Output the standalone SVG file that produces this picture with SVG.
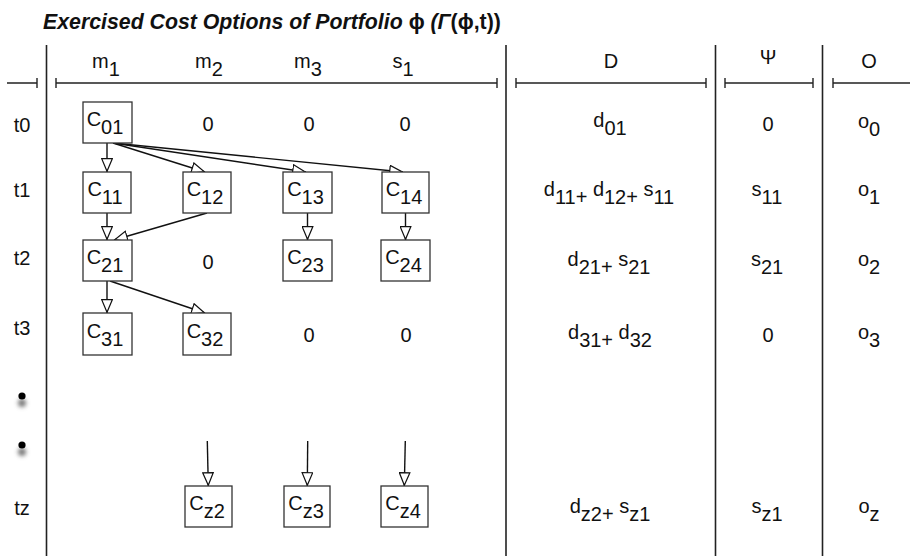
<svg xmlns="http://www.w3.org/2000/svg" width="910" height="556" viewBox="0 0 910 556">
  <style>
    text { font-family: "Liberation Sans", Arial, sans-serif; font-size: 20px; fill: #111; }
    .title { font-size: 21.3px; font-weight: bold; font-style: italic; }
    .mid { text-anchor: middle; }
    .rule { stroke: #222; stroke-width: 1.6; fill: none; }
    .bar { stroke: #222; stroke-width: 1.4; fill: none; }
    .box rect { fill: #fff; stroke: #333; stroke-width: 1.3; }
    .link { stroke: #111; stroke-width: 1.4; fill: none; marker-end: url(#head); }
  </style>
  <defs>
    <marker id="head" viewBox="0 0 14 12" refX="14" refY="6" markerWidth="14" markerHeight="12" markerUnits="userSpaceOnUse" orient="auto">
      <path d="M0.7,0.7 L13.3,6 L0.7,11.3 Z" fill="#fff" stroke="#111" stroke-width="1.2"/>
    </marker>
    <filter id="soft" x="-2" y="-2" width="5" height="5">
      <feGaussianBlur stdDeviation="2"/>
    </filter>
  </defs>

  <rect width="910" height="556" fill="#fff"/>

  <!-- title -->
  <text class="title" x="43" y="29">Exercised Cost Options of Portfolio <tspan font-style="normal">ϕ</tspan> (Γ<tspan font-style="normal">(ϕ,t))</tspan></text>

  <!-- column dividers -->
  <g id="grid">
    <line class="rule" x1="46.5" y1="45" x2="46.5" y2="556"/>
    <line class="rule" x1="506" y1="45" x2="506" y2="556"/>
    <line class="rule" x1="715.5" y1="45" x2="715.5" y2="556"/>
    <line class="rule" x1="822.5" y1="45" x2="822.5" y2="556"/>
    <!-- span bars under the headers -->
    <path class="bar" d="M7,83 H37 M37,78 V88"/>
    <path class="bar" d="M56,83 H497 M56,78 V88 M497,78 V88"/>
    <path class="bar" d="M516,83 H706 M516,78 V88 M706,78 V88"/>
    <path class="bar" d="M725,83 H813 M725,78 V88 M813,78 V88"/>
    <path class="bar" d="M833,83 H910 M833,78 V88"/>
  </g>

  <!-- column headers -->
  <g id="headers">
    <text class="mid" x="106" y="68">m<tspan dy="7.5">1</tspan></text>
    <text class="mid" x="209" y="68">m<tspan dy="7.5">2</tspan></text>
    <text class="mid" x="308" y="68">m<tspan dy="7.5">3</tspan></text>
    <text class="mid" x="403" y="68">s<tspan dy="7.5">1</tspan></text>
    <text class="mid" x="611" y="68">D</text>
    <text class="mid" x="768" y="64" font-size="14">Ψ</text>
    <text class="mid" x="869" y="68">O</text>
  </g>

  <!-- row labels -->
  <g id="rows">
    <text class="mid" x="22" y="132">t0</text>
    <text class="mid" x="22" y="197">t1</text>
    <text class="mid" x="22" y="265">t2</text>
    <text class="mid" x="22" y="335">t3</text>
    <text class="mid" x="22" y="515">tz</text>
    <circle cx="22" cy="403" r="4" fill="#777" filter="url(#soft)"/>
    <circle cx="22" cy="396" r="3.6" fill="#000"/>
    <circle cx="22" cy="452" r="4" fill="#777" filter="url(#soft)"/>
    <circle cx="22" cy="445" r="3.6" fill="#000"/>
  </g>

  <!-- connectors -->
  <g id="connectors">
    <line class="link" x1="107" y1="143" x2="107" y2="172"/>
    <line class="link" x1="113" y1="143" x2="205" y2="172"/>
    <line class="link" x1="113" y1="143" x2="306" y2="172"/>
    <line class="link" x1="113" y1="143" x2="403" y2="172"/>
    <line class="link" x1="107" y1="213" x2="107" y2="240"/>
    <line class="link" x1="207" y1="213" x2="114" y2="240"/>
    <line class="link" x1="307.5" y1="213" x2="307.5" y2="240"/>
    <line class="link" x1="405.5" y1="213" x2="405.5" y2="240"/>
    <line class="link" x1="107" y1="281" x2="107" y2="313"/>
    <line class="link" x1="110" y1="281" x2="205" y2="313"/>
    <line class="link" x1="207.3" y1="441" x2="208.3" y2="486"/>
    <line class="link" x1="307.7" y1="441" x2="307.3" y2="486"/>
    <line class="link" x1="405.3" y1="441" x2="404.3" y2="486"/>
  </g>

  <!-- cost option nodes -->
  <g id="c01" class="box"><rect x="83" y="102" width="49" height="41"/><text class="mid" x="105" y="126">C<tspan dy="7.5">01</tspan></text></g>
  <g id="c11" class="box"><rect x="83" y="172" width="48" height="41"/><text class="mid" x="105" y="196">C<tspan dy="7.5">11</tspan></text></g>
  <g id="c12" class="box"><rect x="183" y="172" width="48" height="41"/><text class="mid" x="205" y="196">C<tspan dy="7.5">12</tspan></text></g>
  <g id="c13" class="box"><rect x="283" y="172" width="49" height="41"/><text class="mid" x="305.5" y="196">C<tspan dy="7.5">13</tspan></text></g>
  <g id="c14" class="box"><rect x="382" y="172" width="47" height="41"/><text class="mid" x="404" y="196">C<tspan dy="7.5">14</tspan></text></g>
  <g id="c21" class="box"><rect x="83" y="240" width="49" height="41"/><text class="mid" x="105" y="264">C<tspan dy="7.5">21</tspan></text></g>
  <g id="c23" class="box"><rect x="283" y="240" width="49" height="41"/><text class="mid" x="305.5" y="264">C<tspan dy="7.5">23</tspan></text></g>
  <g id="c24" class="box"><rect x="381" y="240" width="49" height="41"/><text class="mid" x="403.5" y="264">C<tspan dy="7.5">24</tspan></text></g>
  <g id="c31" class="box"><rect x="83" y="313" width="49" height="42"/><text class="mid" x="105" y="338">C<tspan dy="7.5">31</tspan></text></g>
  <g id="c32" class="box"><rect x="183" y="313" width="48" height="42"/><text class="mid" x="205" y="338">C<tspan dy="7.5">32</tspan></text></g>
  <g id="cz2" class="box"><rect x="185" y="486" width="47" height="41"/><text class="mid" x="207" y="510">C<tspan dy="7.5">z2</tspan></text></g>
  <g id="cz3" class="box"><rect x="284" y="486" width="46" height="41"/><text class="mid" x="306" y="510">C<tspan dy="7.5">z3</tspan></text></g>
  <g id="cz4" class="box"><rect x="381" y="486" width="47" height="41"/><text class="mid" x="403" y="510">C<tspan dy="7.5">z4</tspan></text></g>

  <!-- zero entries in the option columns -->
  <g id="zeros">
    <text class="mid" x="208" y="131">0</text>
    <text class="mid" x="309" y="131">0</text>
    <text class="mid" x="405" y="131">0</text>
    <text class="mid" x="208" y="269">0</text>
    <text class="mid" x="309" y="342">0</text>
    <text class="mid" x="406" y="342">0</text>
  </g>

  <!-- D column -->
  <g id="d-values">
    <text class="mid" x="610" y="127">d<tspan dy="7.5">01</tspan></text>
    <text class="mid" x="609" y="196">d<tspan dy="7.5">11+ </tspan><tspan dy="-7.5">d</tspan><tspan dy="7.5">12+ </tspan><tspan dy="-7.5">s</tspan><tspan dy="7.5">11</tspan></text>
    <text class="mid" x="609" y="266">d<tspan dy="7.5">21+ </tspan><tspan dy="-7.5">s</tspan><tspan dy="7.5">21</tspan></text>
    <text class="mid" x="610" y="339">d<tspan dy="7.5">31+ </tspan><tspan dy="-7.5">d</tspan><tspan dy="7.5">32</tspan></text>
    <text class="mid" x="610" y="513">d<tspan dy="7.5">z2+ </tspan><tspan dy="-7.5">s</tspan><tspan dy="7.5">z1</tspan></text>
  </g>

  <!-- Psi column -->
  <g id="psi-values">
    <text class="mid" x="768" y="131">0</text>
    <text class="mid" x="767" y="196">s<tspan dy="7.5">11</tspan></text>
    <text class="mid" x="767" y="266">s<tspan dy="7.5">21</tspan></text>
    <text class="mid" x="768" y="342">0</text>
    <text class="mid" x="767" y="513">s<tspan dy="7.5">z1</tspan></text>
  </g>

  <!-- O column -->
  <g id="o-values">
    <text class="mid" x="869" y="128">o<tspan dy="7.5">0</tspan></text>
    <text class="mid" x="869" y="196">o<tspan dy="7.5">1</tspan></text>
    <text class="mid" x="869" y="266">o<tspan dy="7.5">2</tspan></text>
    <text class="mid" x="869" y="339">o<tspan dy="7.5">3</tspan></text>
    <text class="mid" x="869" y="513">o<tspan dy="7.5">z</tspan></text>
  </g>
</svg>
